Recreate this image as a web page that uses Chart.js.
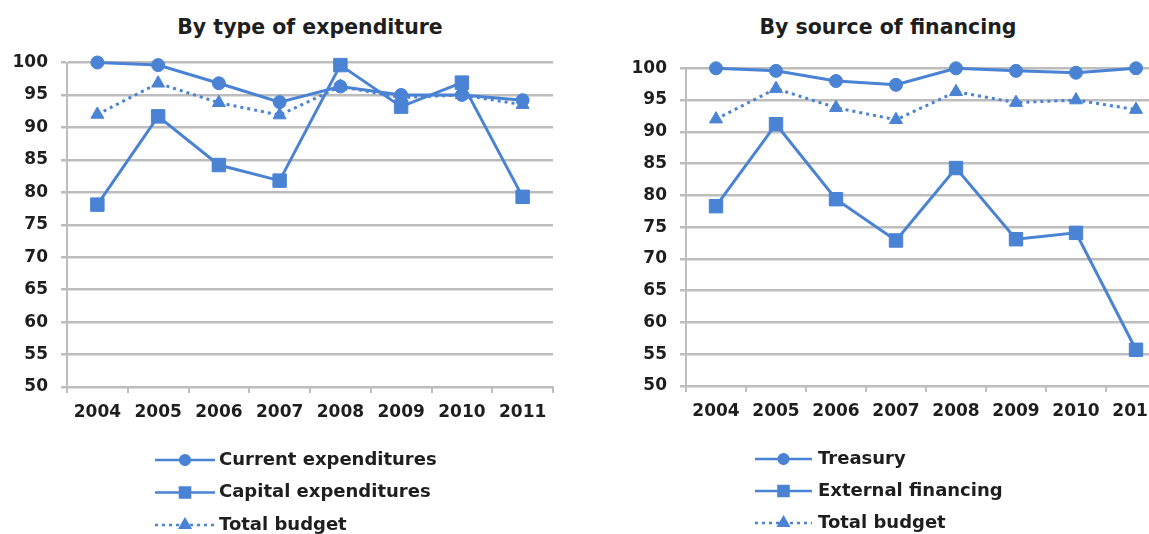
<!DOCTYPE html>
<html>
<head>
<meta charset="utf-8">
<script src="https://cdn.jsdelivr.net/npm/chart.js@4.4.0/dist/chart.umd.min.js"></script>
<style>
  body { margin: 0; width: 1149px; height: 534px; overflow: hidden; position: relative; background: #fff; font-family: "DejaVu Sans", sans-serif; }
  .title { position: absolute; top: 14px; width: 600px; text-align: center; font-weight: bold; font-size: 20.5px; line-height: 26px; color: #1e1e1e; white-space: nowrap; }
  #leftBox { position: absolute; left: 0; top: 0; width: 577px; height: 534px; }
  #rightBox { position: absolute; left: 577px; top: 0; width: 572px; height: 534px; overflow: hidden; }
</style>
</head>
<body>
<div class="title" style="left:10px">By type of expenditure</div>
<div class="title" style="left:588px">By source of financing</div>
<div id="leftBox"><canvas id="expenditureChart" width="577" height="534"></canvas></div>
<div id="rightBox"><canvas id="financingChart" width="600" height="534"></canvas></div>
<script>
const years = ['2004', '2005', '2006', '2007', '2008', '2009', '2010', '2011'];

// execution rates, %
const currentExpenditures = [100, 99.6, 96.8, 93.9, 96.3, 95.0, 95.0, 94.2];
const capitalExpenditures = [78.1, 91.7, 84.2, 81.8, 99.6, 93.2, 96.9, 79.3];
const treasury = [100, 99.6, 98.0, 97.4, 100, 99.6, 99.3, 100];
const externalFinancing = [78.3, 91.2, 79.4, 72.9, 84.3, 73.1, 74.1, 55.7];
const totalBudget = [92.0, 96.8, 93.8, 91.9, 96.3, 94.6, 95.0, 93.5];

const yMin = 50;
const yMax = 100;
const yStep = 5;

const BLUE = '#4a82d4';
const GRID = '#bdbdbd';
const TEXT = '#1e1e1e';
const FONT = '"DejaVu Sans", sans-serif';

// legend under the plot: one row per series, line sample with marker in the middle
const stackedLegend = {
    id: 'stackedLegend',
    afterDraw(chart, args, opts) {
        const ctx = chart.ctx;
        ctx.save();
        chart.data.datasets.forEach((ds, i) => {
            const y = opts.top + i * opts.rowHeight;
            const x0 = opts.left;
            const x1 = opts.left + opts.sampleWidth;
            ctx.strokeStyle = ds.borderColor;
            ctx.lineWidth = 2.5;
            ctx.setLineDash(ds.borderDash || []);
            ctx.beginPath();
            ctx.moveTo(x0, y);
            ctx.lineTo(x1, y);
            ctx.stroke();
            ctx.setLineDash([]);
            ctx.fillStyle = ds.pointBackgroundColor;
            ctx.strokeStyle = ds.pointBorderColor;
            Chart.helpers.drawPoint(ctx, {
                pointStyle: ds.pointStyle,
                radius: ds.pointRadius * 0.75,
                borderWidth: 1,
                rotation: 0
            }, (x0 + x1) / 2, y);
            ctx.fillStyle = TEXT;
            ctx.font = 'bold 18px ' + FONT;
            ctx.textBaseline = 'middle';
            ctx.textAlign = 'left';
            ctx.fillText(ds.label, x1 + opts.gap, y);
        });
        ctx.restore();
    }
};

function series(label, data, pointStyle, radius, dotted) {
    return {
        label,
        data,
        borderColor: BLUE,
        backgroundColor: BLUE,
        pointBackgroundColor: BLUE,
        pointBorderColor: BLUE,
        borderWidth: dotted ? 3 : 3,
        borderDash: dotted ? [3, 4] : [],
        pointStyle,
        pointRadius: radius,
        pointBorderWidth: 1,
        tension: 0,
        clip: false
    };
}

function buildOptions(geo) {
    return {
        responsive: false,
        animation: false,
        layout: { padding: { top: geo.top, right: geo.right, bottom: geo.bottom, left: 0 } },
        plugins: {
            legend: { display: false },
            tooltip: { enabled: false },
            stackedLegend: geo.legend
        },
        scales: {
            x: {
                offset: true,
                grid: { drawOnChartArea: false, offset: true, color: GRID, lineWidth: 2, tickLength: 6 },
                border: { color: GRID, width: 2 },
                ticks: { color: TEXT, font: { family: FONT, size: 17, weight: 'bold' }, padding: 9, maxRotation: 0 },
                afterFit: s => { s.height = 40; }
            },
            y: {
                min: yMin,
                max: yMax,
                ticks: { stepSize: yStep, color: TEXT, font: { family: FONT, size: 17, weight: 'bold' }, padding: 13 },
                grid: { color: GRID, lineWidth: 2.5, tickLength: 6 },
                border: { color: GRID, width: 2 },
                afterFit: s => { s.width = geo.axisX; }
            }
        }
    };
}

new Chart(document.getElementById('expenditureChart'), {
    type: 'line',
    data: {
        labels: years,
        datasets: [
            series('Current expenditures', currentExpenditures, 'circle', 6.5, false),
            series('Capital expenditures', capitalExpenditures, 'rect', 9.5, false),
            series('Total budget', totalBudget, 'triangle', 7.5, true)
        ]
    },
    options: buildOptions({
        top: 62.5, right: 24, bottom: 107, axisX: 67,
        legend: { left: 155, top: 460, rowHeight: 32.5, sampleWidth: 60, gap: 4 }
    }),
    plugins: [stackedLegend]
});

new Chart(document.getElementById('financingChart'), {
    type: 'line',
    data: {
        labels: years,
        datasets: [
            series('Treasury', treasury, 'circle', 6.5, false),
            series('External financing', externalFinancing, 'rect', 9.5, false),
            series('Total budget', totalBudget, 'triangle', 7.5, true)
        ]
    },
    options: buildOptions({
        top: 68.3, right: 11, bottom: 108, axisX: 109,
        legend: { left: 178, top: 459, rowHeight: 32, sampleWidth: 57, gap: 6 }
    }),
    plugins: [stackedLegend]
});
</script>
</body>
</html>
